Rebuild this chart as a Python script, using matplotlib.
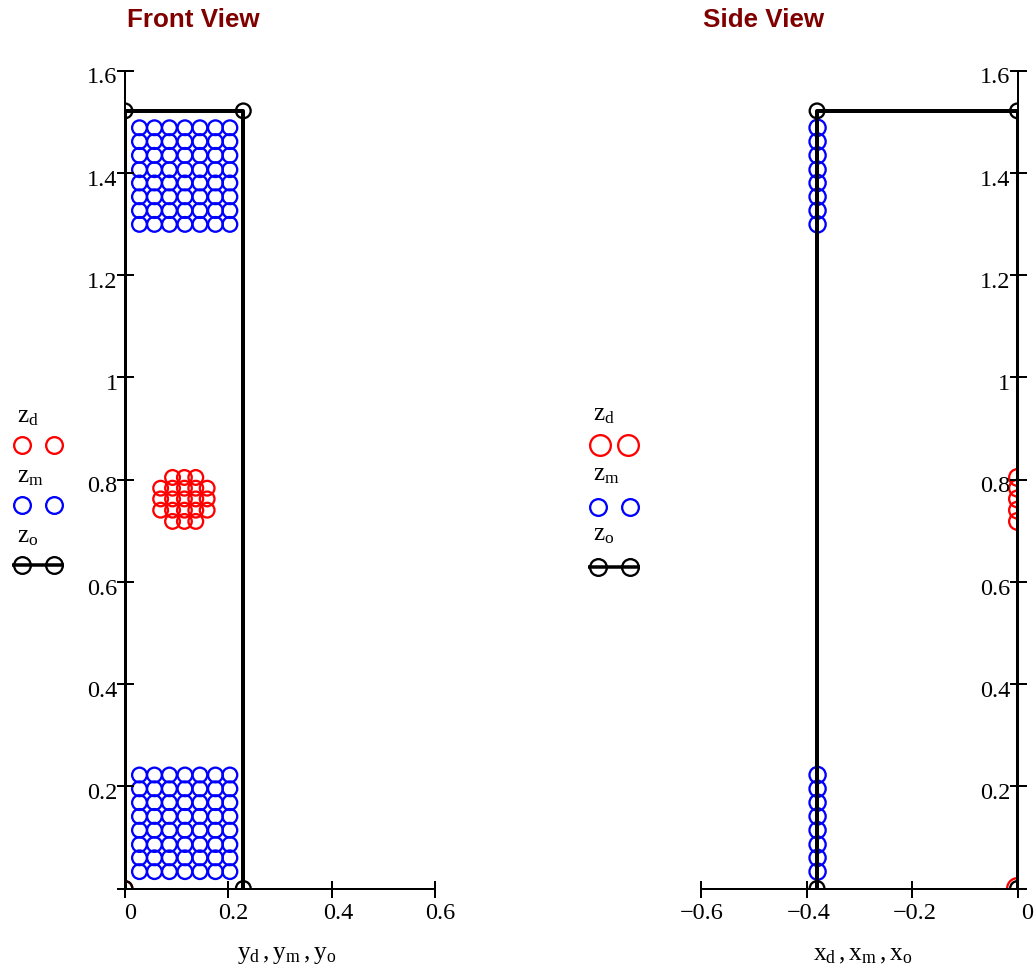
import numpy as np
import matplotlib
matplotlib.use('Agg')
import matplotlib.pyplot as plt
from matplotlib.lines import Line2D
from matplotlib.transforms import ScaledTranslation

plt.rcParams['font.family'] = ['Liberation Serif', 'DejaVu Serif']
plt.rcParams['mathtext.fontset'] = 'custom'
plt.rcParams['mathtext.rm'] = 'Liberation Serif'
plt.rcParams['mathtext.it'] = 'Liberation Serif'

W, H = 1036, 970
DPI = 100

# values
mass_cols = [0.028, 0.057, 0.086, 0.116, 0.145, 0.175, 0.203]
mass_rows_top = [1.299, 1.326, 1.353, 1.380, 1.406, 1.434, 1.461, 1.488]
mass_rows_bot = [0.033, 0.060, 0.086, 0.114, 0.141, 0.168, 0.195, 0.222]
mass_x_side = [-0.379]

driver_cols = [0.069, 0.092, 0.115, 0.137, 0.159]
driver_rows = [0.718, 0.740, 0.762, 0.783, 0.804]
driver_skip = [(0.069, 0.718), (0.159, 0.718), (0.069, 0.804), (0.159, 0.804)]
driver_side_x = [0.0, 0.0, 0.0, 0.0, 0.0]
origin_x = [0.0]
origin_z = [0.0]

outline_y = [0.0, 0.0, 0.229, 0.229]
outline_x = [0.0, 0.0, -0.38, -0.38]
outline_z = [0.0, 1.521, 1.521, 0.0]

z_ticks = [0, 0.2, 0.4, 0.6, 0.8, 1, 1.2, 1.4, 1.6]
z_labels = ['', '0.2', '0.4', '0.6', '0.8', '1', '1.2', '1.4', '1.6']
front_ticks = [0, 0.2, 0.4, 0.6]
front_labels = ['0', '0.2', '0.4', '0.6']
side_ticks = [-0.6, -0.4, -0.2, 0]
side_labels = ['\u22120.6', '\u22120.4', '\u22120.2', '0']

RED = '#ff0000'
BLUE = '#0000ff'
EDGE = 2.3


def px(v):
    return v * 72 / DPI


def grid(cols, rows):
    xx, yy = np.meshgrid(cols, rows)
    return xx.ravel(), yy.ravel()


def circles(ax, x, y, color, d):
    # scatter keeps sub-pixel positions, plot() rounds markers to whole pixels
    ax.scatter(x, y, s=px(d - EDGE) ** 2, facecolors='none', edgecolors=color, linewidths=px(EDGE))


def setup(ax):
    ax.set_ylim(0, 1.6)
    for s in ['top', 'right']:
        ax.spines[s].set_visible(False)
    ax.spines['left'].set_linewidth(px(2))
    ax.spines['bottom'].set_linewidth(px(2))
    ax.set_yticks(z_ticks)
    ax.set_yticklabels(z_labels)
    ax.tick_params(direction='inout', length=px(17), width=px(2), labelsize=17.5, pad=px(1))
    ax.tick_params(axis='y', pad=px(-1))
    for lab in ax.get_yticklabels():
        lab.set_transform(lab.get_transform() + ScaledTranslation(0, -4 / DPI, fig.dpi_scale_trans))


fig = plt.figure(figsize=(W / DPI, H / DPI), dpi=DPI)

# Front view
ax1 = fig.add_axes([125 / W, 1 - 889.5 / H, (435 - 125) / W, (889.5 - 71.5) / H])
ax1.set_xlim(0, 0.6)
ax1.set_xticks(front_ticks)
ax1.set_xticklabels(front_labels)
setup(ax1)
for lab, dx in zip(ax1.get_xticklabels(), [5, 5, 7, 5]):
    lab.set_transform(lab.get_transform() + ScaledTranslation(dx / DPI, -4 / DPI, fig.dpi_scale_trans))

dx_, dz_ = grid(driver_cols, driver_rows)
keep = [(a, b) not in driver_skip for a, b in zip(dx_, dz_)]
circles(ax1, dx_[keep], dz_[keep], RED, 17)
circles(ax1, origin_x, origin_z, RED, 17)
mx, mz = grid(mass_cols, mass_rows_top)
circles(ax1, mx, mz, BLUE, 17)
mx, mz = grid(mass_cols, mass_rows_bot)
circles(ax1, mx, mz, BLUE, 17)
ax1.plot(outline_y, outline_z, '-', color='k', lw=px(4))
circles(ax1, outline_y, outline_z, 'k', 17)

# Side view
ax2 = fig.add_axes([701 / W, 1 - 889.5 / H, (1017.5 - 701) / W, (889.5 - 71.5) / H])
ax2.set_xlim(-0.6, 0)
ax2.set_xticks(side_ticks)
ax2.set_xticklabels(side_labels)
ax2.spines['left'].set_position(('data', 0))
setup(ax2)
for lab, dx in zip(ax2.get_xticklabels(), [1, 2, 3, 10]):
    lab.set_transform(lab.get_transform() + ScaledTranslation(dx / DPI, -4 / DPI, fig.dpi_scale_trans))

circles(ax2, driver_side_x, driver_rows, RED, 19)
circles(ax2, origin_x, origin_z, RED, 23)
sx, sz = grid(mass_x_side, mass_rows_top)
circles(ax2, sx, sz, BLUE, 18.5)
sx, sz = grid(mass_x_side, mass_rows_bot)
circles(ax2, sx, sz, BLUE, 18.5)
ax2.plot(outline_x, outline_z, '-', color='k', lw=px(4))
circles(ax2, outline_x, outline_z, 'k', 17)


def ftext(x, y, s, **kw):
    fig.text(x / W, 1 - y / H, s, va='center', **kw)


def fkey(x0, x1, y, color, d, line=False):
    # legend sample: two circles, optionally joined by a line
    if line:
        fig.add_artist(Line2D([(x0 - 10) / W, (x1 + 10) / W], [1 - y / H] * 2, color=color, lw=px(3.5),
                              solid_capstyle='butt'))
    fig.add_artist(Line2D([x0 / W, x1 / W], [1 - y / H] * 2, ls='none', marker='o', mfc='none',
                          mec=color, ms=px(d - EDGE), mew=px(EDGE)))


ftext(127, 20, 'Front View', family='Liberation Sans', weight='bold', color='#800000', fontsize=18.7)
ftext(703, 20, 'Side View', family='Liberation Sans', weight='bold', color='#800000', fontsize=18.7)

ftext(287, 955, r'$\mathrm{y_d\,,y_m\,,y_o}$', fontsize=18.3, ha='center')
ftext(863, 955, r'$\mathrm{x_d\,,x_m\,,x_o}$', fontsize=18.3, ha='center')

for x, y, s in [(17, 417, 'z_d'), (17, 477, 'z_m'), (17, 537, 'z_o'),
                (593, 415, 'z_d'), (593, 475, 'z_m'), (593, 535, 'z_o')]:
    ftext(x, y, '$\\mathrm{' + s + '}$', fontsize=18)

fkey(22, 54, 446, RED, 19)
fkey(22, 54, 506, BLUE, 19)
fkey(22, 54, 566, 'k', 19, line=True)
fkey(600, 627.5, 446, RED, 23)
fkey(598, 630, 508, BLUE, 19)
fkey(598, 630, 568, 'k', 19, line=True)

fig.savefig('out.png', dpi=DPI)
